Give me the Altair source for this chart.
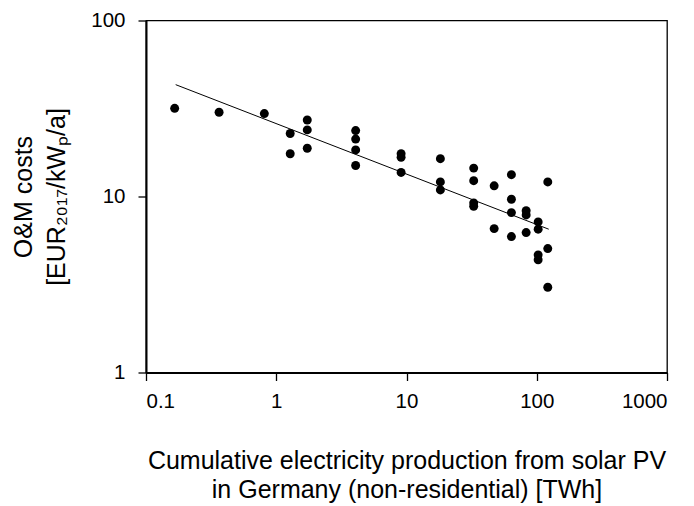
import altair as alt
import pandas as pd

# Cumulative production [TWh] and O&M cost [EUR2017/kWp/a]
prod = [0.166, 0.364, 0.81,
        1.28, 1.28,
        1.73, 1.73, 1.73,
        4.07, 4.07, 4.07, 4.07,
        9.09, 9.09, 9.09,
        18.2, 18.2, 18.2,
        32.8, 32.8, 32.8, 32.8,
        47.1, 47.1,
        63.9, 63.9, 63.9, 63.9,
        82.9, 82.9, 82.9,
        102.5, 102.5, 102.5, 102.5,
        121.5, 121.5, 121.5]
cost = [31.7, 30.1, 29.6,
        22.8, 17.5,
        27.2, 23.9, 18.8,
        23.7, 21.2, 18.4, 15.0,
        17.5, 16.7, 13.7,
        16.4, 12.1, 10.9,
        14.5, 12.3, 9.2, 8.8,
        11.5, 6.57,
        13.3, 9.65, 8.1, 5.92,
        8.3, 7.86, 6.24,
        7.17, 6.52, 4.66, 4.37,
        12.1, 5.06, 3.05]

# trend line end points (power-law fit shown in the figure)
fit_prod = [0.169, 123.6]
fit_cost = [43.2, 6.52]

x_ticks = [0.1, 1, 10, 100, 1000]
y_ticks = [1, 10, 100]

pts = pd.DataFrame({"prod": prod, "cost": cost})
fit = pd.DataFrame({"prod": fit_prod, "cost": fit_cost})

FONT = "Liberation Sans"

x_enc = alt.X(
    "prod:Q",
    scale=alt.Scale(type="log", domain=[0.1, 1000], nice=False),
    axis=alt.Axis(
        values=x_ticks, format="~g",
        title=["Cumulative electricity production from solar PV",
               "in Germany (non-residential) [TWh]"],
        titlePadding=36, titleLineHeight=29,
    ),
)
y_enc = alt.Y(
    "cost:Q",
    scale=alt.Scale(type="log", domain=[1, 100], nice=False),
    axis=alt.Axis(
        values=y_ticks, format="~g",
        title=["O&M costs", "[EUR\u2082\u2080\u2081\u2087/kW\u209a/a]"],
        titlePadding=21, titleLineHeight=33,
    ),
)

points = alt.Chart(pts).mark_circle(size=80, color="black", opacity=1).encode(
    x=x_enc, y=y_enc
)
line = alt.Chart(fit).mark_line(color="black", strokeWidth=1).encode(
    x="prod:Q", y="cost:Q"
)

chart = (
    alt.layer(line, points)
    .properties(
        width=521, height=352,
        autosize=alt.AutoSizeParams(type="none"),
        padding={"left": 138, "top": 12.5, "right": 15, "bottom": 131},
    )
    .configure_view(stroke="black", strokeWidth=1.3)
    .configure_axis(
        grid=False,
        domainColor="black", domainWidth=2,
        tickColor="black", tickWidth=1.3, tickSize=8,
        labelColor="black", labelFont=FONT, labelFontSize=20.5, labelPadding=11,
        titleColor="black", titleFont=FONT, titleFontSize=25, titleFontWeight="normal",
    )
    .configure_axisY(labelPadding=13)
)

chart.save("out.html", embed_options={"renderer": "svg", "actions": False})
